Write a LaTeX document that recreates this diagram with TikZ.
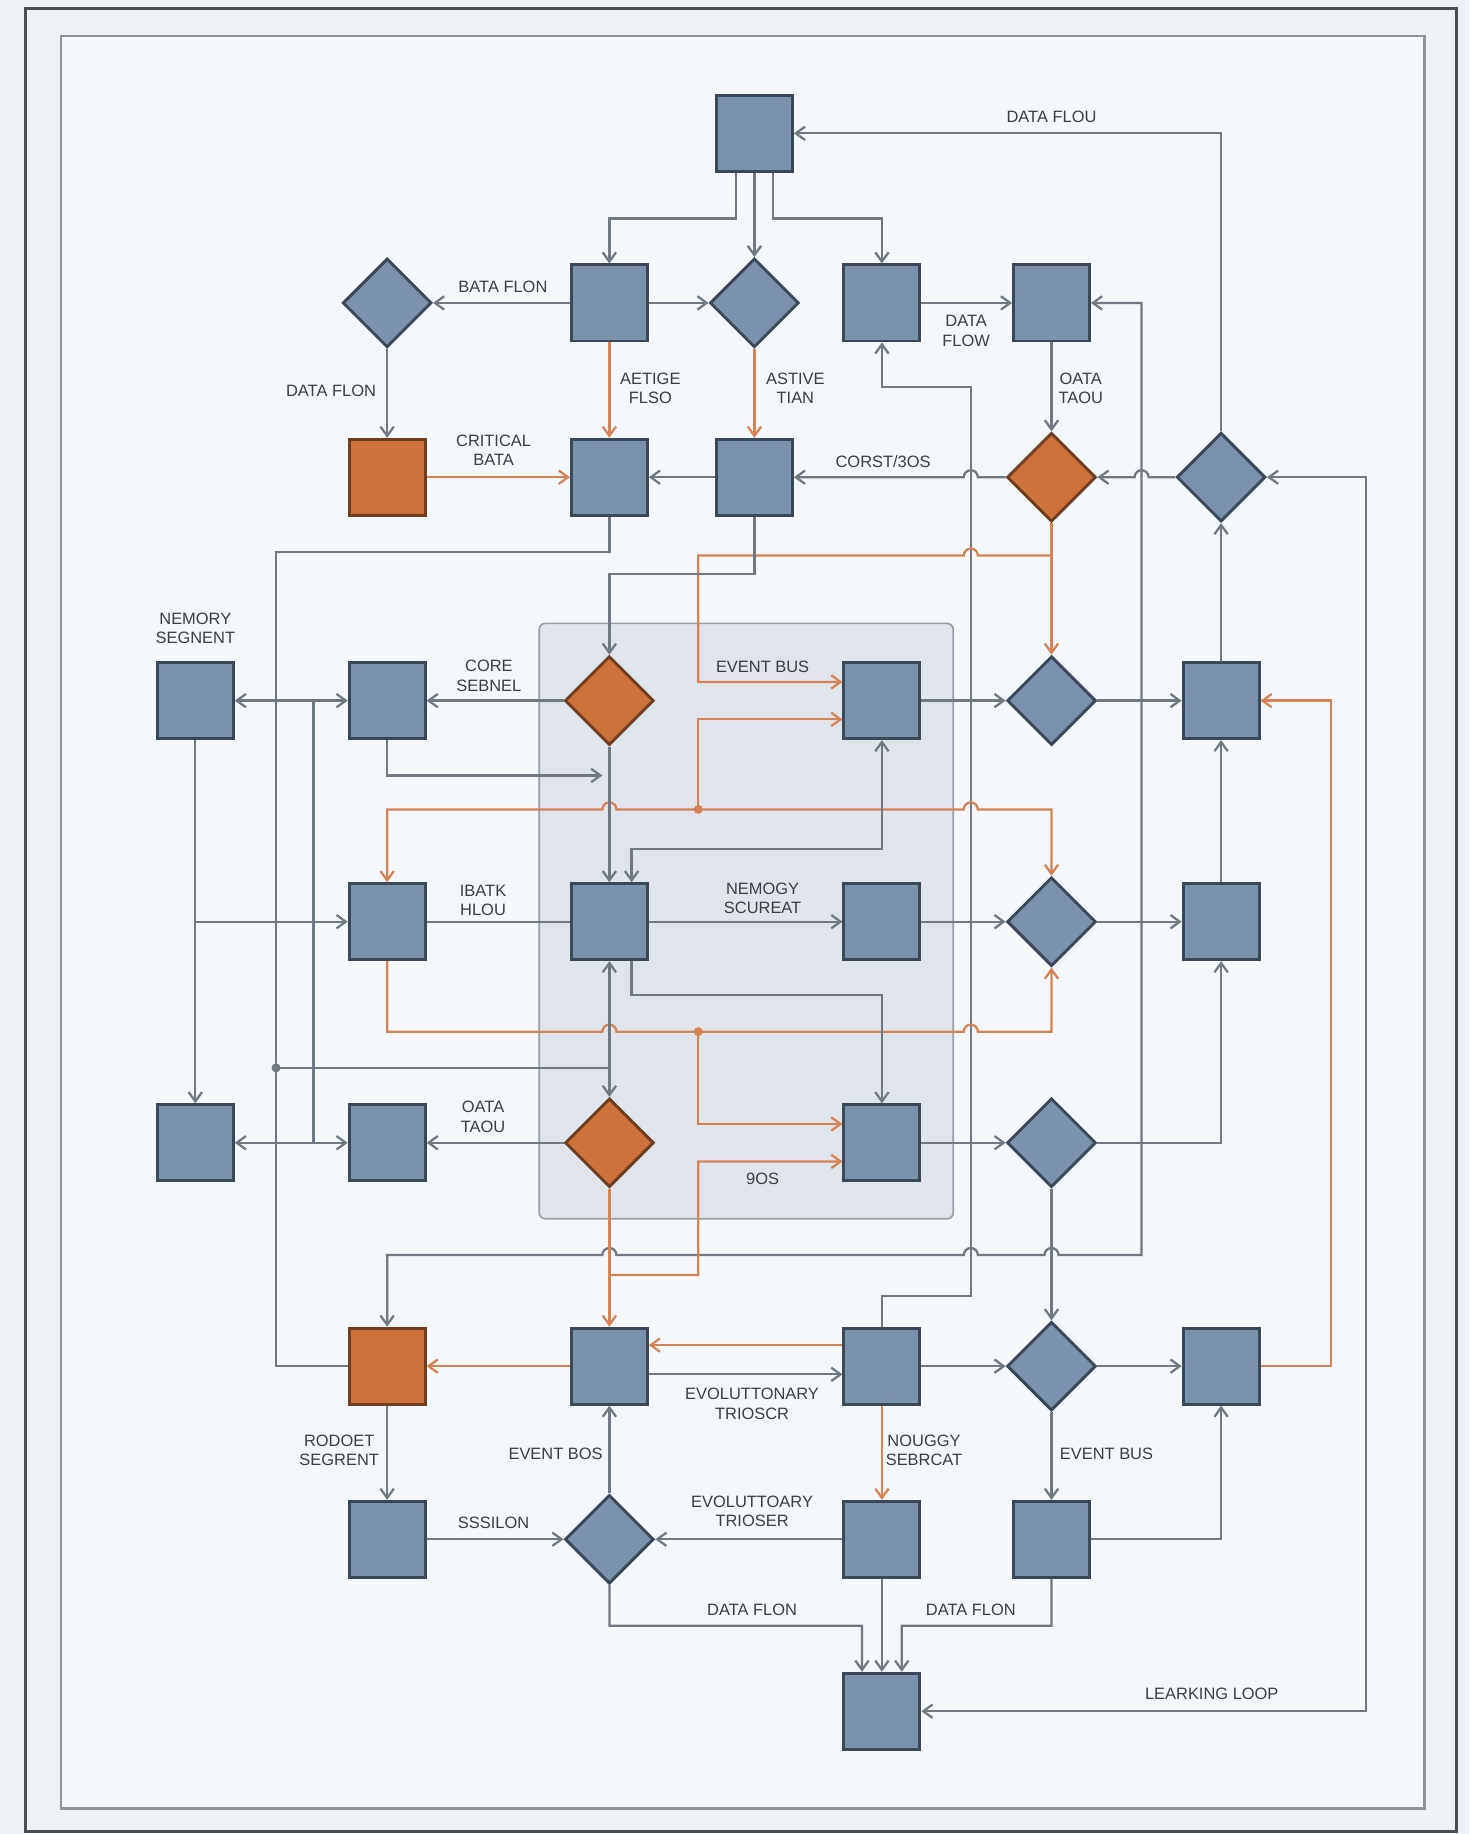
\documentclass[tikz,border=0pt]{standalone}
\usepackage{fontspec}
\setmainfont{Liberation Sans}
\usetikzlibrary{shapes.geometric,arrows.meta}

\definecolor{pagebg}{RGB}{238,242,246}
\definecolor{innerbg}{RGB}{245,248,250}
\definecolor{boxblue}{RGB}{122,146,172}
\definecolor{boxline}{RGB}{58,72,88}
\definecolor{hotfill}{RGB}{205,114,58}
\definecolor{hotline}{RGB}{110,62,34}
\definecolor{hotwire}{RGB}{214,130,84}
\definecolor{wire}{RGB}{112,120,130}
\definecolor{ink}{RGB}{58,62,68}
\definecolor{panel}{RGB}{224,229,235}
\definecolor{panelline}{RGB}{150,158,168}

\tikzset{
  box/.style={draw=boxline, fill=boxblue, line width=1.4pt, minimum size=1.3cm, inner sep=0pt},
  hotbox/.style={box, fill=hotfill, draw=hotline},
  dia/.style={draw=boxline, fill=boxblue, line width=1.4pt, shape=diamond, minimum size=1.52cm, inner sep=0pt},
  hotdia/.style={dia, fill=hotfill, draw=hotline},
  flow/.style={draw=wire, line width=1.1pt},
  hot/.style={draw=hotwire, line width=1.1pt},
  lab/.style={font=\fontsize{8}{9.5}\selectfont, text=ink, align=center, inner sep=1pt},
}

\begin{document}
\begin{tikzpicture}[x=0.02cm, y=-0.02cm, >={Straight Barb[length=4.5pt,width=6.5pt]}]
\useasboundingbox (0,0) rectangle (1256,1568);

% Frames
\fill[pagebg] (0,0) rectangle (1256,1568);
\draw[draw={rgb,255:red,74;green,79;blue,85}, line width=1.5pt] (22,7) rectangle (1245,1566);
\draw[fill=innerbg, draw={rgb,255:red,140;green,147;blue,155}, line width=1.2pt] (52,31) rectangle (1218,1546);
\draw[fill=panel, draw=panelline, rounded corners=3pt, line width=0.8pt] (461,533) rectangle (815,1042);

% Nodes
\node[box] (t) at (645,114) {};
\node[dia] (d11) at (331,259) {};
\node[box] (s12) at (521,259) {};
\node[dia] (d13) at (645,259) {};
\node[box] (s14) at (754,259) {};
\node[box] (s15) at (899,259) {};
\node[hotbox] (o21) at (331,408) {};
\node[box] (s22) at (521,408) {};
\node[box] (s23) at (645,408) {};
\node[hotdia] (od25) at (899,408) {};
\node[dia] (d26) at (1044,408) {};
\node[box] (m30) at (167,599) {};
\node[box] (s31) at (331,599) {};
\node[hotdia] (od32) at (521,599) {};
\node[box] (s34) at (754,599) {};
\node[dia] (d35) at (899,599) {};
\node[box] (s36) at (1044,599) {};
\node[box] (s41) at (331,788) {};
\node[box] (s42) at (521,788) {};
\node[box] (s44) at (754,788) {};
\node[dia] (d45) at (899,788) {};
\node[box] (s46) at (1044,788) {};
\node[box] (s50) at (167,977) {};
\node[box] (s51) at (331,977) {};
\node[hotdia] (od52) at (521,977) {};
\node[box] (s54) at (754,977) {};
\node[dia] (d55) at (899,977) {};
\node[hotbox] (o61) at (331,1168) {};
\node[box] (s62) at (521,1168) {};
\node[box] (s64) at (754,1168) {};
\node[dia] (d65) at (899,1168) {};
\node[box] (s66) at (1044,1168) {};
\node[box] (s71) at (331,1316) {};
\node[dia] (d72) at (521,1316) {};
\node[box] (s74) at (754,1316) {};
\node[box] (s75) at (899,1316) {};
\node[box] (s84) at (754,1463) {};

% Junctions
\coordinate (j25) at (899,475);
\coordinate (jup) at (597,692);
\coordinate (jlo) at (597,882);
\coordinate (jleft) at (236,913);
\coordinate (jmem) at (167,788);
\coordinate (jbus) at (521,1090);

% Top row
\draw[flow,->] (d26.north) |- (t.east);
\draw[flow,->] ([xshift=-0.32cm]t.south) -- ++(0,39) -| (s12.north);
\draw[flow,->] (t.south) -- (d13.north);
\draw[flow,->] ([xshift=0.32cm]t.south) -- ++(0,39) -| (s14.north);
\draw[flow,->] (s12.west) -- (d11.east);
\draw[flow,->] (s12.east) -- (d13.west);
\draw[flow,->] (s14.east) -- (s15.west);
\draw[flow,<->] (s15.east) -- (976,259) -- (976,1073) -- (905,1073)
  arc[start angle=0, end angle=-180, radius=6] -- (836,1073)
  arc[start angle=0, end angle=-180, radius=6] -- (527,1073)
  arc[start angle=0, end angle=-180, radius=6] -| (o61.north);
\draw[flow,->] (d11.south) -- (o21.north);
\draw[hot,->] (s12.south) -- (s22.north);
\draw[hot,->] (d13.south) -- (s23.north);
\draw[hot,->] (o21.east) -- (s22.west);
\draw[flow,->] (s23.west) -- (s22.east);
\draw[flow,->] (od25.west) -- (836,408) arc[start angle=0, end angle=-180, radius=6] -- (s23.east);
\draw[flow,->] (d26.west) -- (982,408) arc[start angle=0, end angle=-180, radius=6] -- (od25.east);
\draw[flow,->] (s15.south) -- (od25.north);
\draw[flow,<->] (d26.east) -- (1168,408) |- (s84.east);
\draw[flow,<-] (s14.south) -- ++(0,38) -| (830,1108) -| (s64.north);

% Event bus (orange)
\draw[hot,->] (od25.south) -- (d35.north);
\draw[hot,->] (j25) -- (836,475) arc[start angle=0, end angle=-180, radius=6]
  -| (597,583) -- ([yshift=0.32cm]s34.west);
\draw[hot,->] (jup) |- ([yshift=-0.32cm]s34.west);
\draw[hot,<->] (s41.north) |- (515,692)
  arc[start angle=180, end angle=360, radius=6] -- (824,692)
  arc[start angle=180, end angle=360, radius=6] -| (d45.north);
\fill[hotwire] (jup) circle (2.2pt);

% Middle rows
\draw[flow,<->] (m30.east) -- (s31.west);
\draw[flow,->] (od32.west) -- (s31.east);
\draw[flow,->] (s31.south) |- (515,663);
\draw[flow,->] (od32.south) -- (s42.north);
\draw[flow,->] (s23.south) -- ++(0,49) -| (od32.north);
\draw[flow] (s22.south) -- ++(0,30) -| (236,1168) -- (o61.west);
\draw[flow] (jleft) -- (521,913);
\fill[wire] (jleft) circle (2.2pt);
\draw[flow,<->] (s34.south) -- ++(0,93) -| ([xshift=0.38cm]s42.north);
\draw[flow,->] (s34.east) -- (d35.west);
\draw[flow,->] (d35.east) -- (s36.west);
\draw[hot,->] (s66.east) -- (1138,1168) |- (s36.east);
\draw[flow,->] (s36.north) -- (d26.south);
\draw[flow,->] (s46.north) -- (s36.south);
\draw[flow,->] (m30.south) -- (s50.north);
\draw[flow,->] (jmem) -- (s41.west);
\draw[flow] (s41.east) -- (s42.west);
\draw[flow,->] (s42.east) -- (s44.west);
\draw[flow,->] (s44.east) -- (d45.west);
\draw[flow,->] (d45.east) -- (s46.west);
\draw[hot,->] (s41.south) |- (515,882)
  arc[start angle=180, end angle=360, radius=6] -- (824,882)
  arc[start angle=180, end angle=360, radius=6] -| (d45.south);
\draw[hot,->] (jlo) |- ([yshift=0.32cm]s54.west);
\fill[hotwire] (jlo) circle (2.2pt);
\draw[flow,->] ([xshift=0.38cm]s42.south) -- ++(0,29) -| (s54.north);
\draw[flow,<->] (s42.south) -- (od52.north);
\draw[flow,->] (od52.west) -- (s51.east);
\draw[flow,<->] (s50.east) -- (s51.west);
\draw[flow] (268,599) -- (268,977);
\draw[hot,->] (od52.south) -- (s62.north);
\draw[hot,->] (jbus) -| (597,993) -- ([yshift=-0.32cm]s54.west);
\draw[flow,->] (s54.east) -- (d55.west);
\draw[flow,->] (d55.east) -| (s46.south);
\draw[flow,->] (d55.south) -- (d65.north);

% Lower rows
\draw[hot,->] ([yshift=0.36cm]s64.west) -- ([yshift=0.36cm]s62.east);
\draw[flow,->] ([yshift=-0.14cm]s62.east) -- ([yshift=-0.14cm]s64.west);
\draw[hot,->] (s62.west) -- (o61.east);
\draw[flow,->] (s64.east) -- (d65.west);
\draw[flow,->] (d65.east) -- (s66.west);
\draw[hot,->] (s64.south) -- (s74.north);
\draw[flow,->] (d65.south) -- (s75.north);
\draw[flow,->] (o61.south) -- (s71.north);
\draw[flow,->] (s71.east) -- (d72.west);
\draw[flow,->] (s74.west) -- (d72.east);
\draw[flow,->] (d72.north) -- (s62.south);
\draw[flow,->] (s75.east) -| (s66.south);
\draw[flow,->] (d72.south) |- (737,1390) -- ([xshift=-0.34cm]s84.north);
\draw[flow,->] (s74.south) -- (s84.north);
\draw[flow,->] (s75.south) |- (771,1390) -- ([xshift=0.34cm]s84.north);

% Labels
\node[lab] (l1) at (899,100) {DATA FLOU};
\node[lab] (l2) at (430,245) {BATA FLON};
\node[lab] (l3) at (283,334) {DATA FLON};
\node[lab] (l4) at (556,332) {AETIGE\\FLSO};
\node[lab] (l5) at (680,332) {ASTIVE\\TIAN};
\node[lab] (l6) at (826,283) {DATA\\FLOW};
\node[lab] (l7) at (924,332) {OATA\\TAOU};
\node[lab] (l8) at (422,385) {CRITICAL\\BATA};
\node[lab] (l9) at (755,395) {CORST/3OS};
\node[lab] (l10) at (167,537) {NEMORY\\SEGNENT};
\node[lab] (l11) at (418,578) {CORE\\SEBNEL};
\node[lab] (l12) at (652,570) {EVENT BUS};
\node[lab] (l13) at (413,770) {IBATK\\HLOU};
\node[lab] (l14) at (652,768) {NEMOGY\\SCUREAT};
\node[lab] (l15) at (413,955) {OATA\\TAOU};
\node[lab] (l16) at (652,1008) {9OS};
\node[lab] (l17) at (643,1200) {EVOLUTTONARY\\TRIOSCR};
\node[lab] (l18) at (290,1240) {RODOET\\SEGRENT};
\node[lab] (l19) at (475,1243) {EVENT BOS};
\node[lab] (l20) at (790,1240) {NOUGGY\\SEBRCAT};
\node[lab] (l21) at (946,1243) {EVENT BUS};
\node[lab] (l22) at (422,1302) {SSSILON};
\node[lab] (l23) at (643,1292) {EVOLUTTOARY\\TRIOSER};
\node[lab] (l24) at (643,1376) {DATA FLON};
\node[lab] (l25) at (830,1376) {DATA FLON};
\node[lab] (l26) at (1036,1448) {LEARKING LOOP};

\end{tikzpicture}
\end{document}
